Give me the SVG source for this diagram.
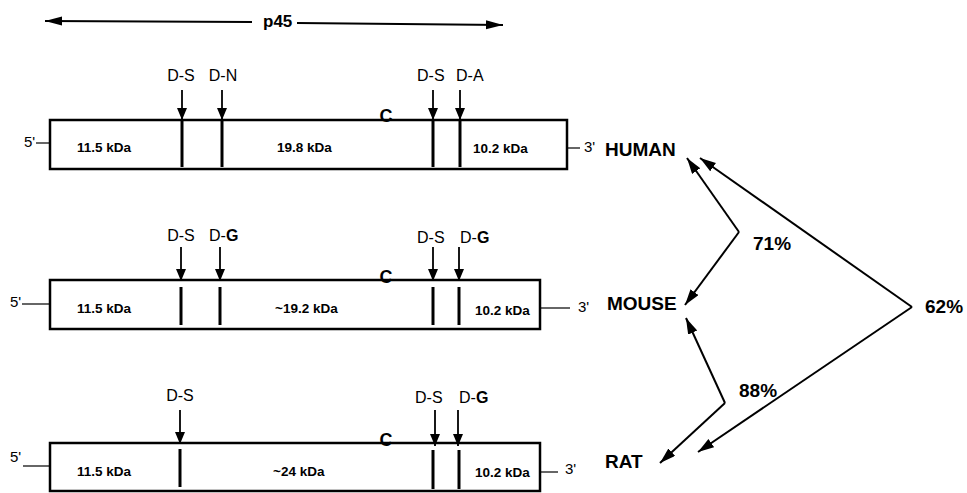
<svg xmlns="http://www.w3.org/2000/svg" width="967" height="493" viewBox="0 0 967 493">
<style>
text{font-family:"Liberation Sans",Arial,sans-serif;fill:#000}
.lbl{font-size:16px;text-anchor:middle}
.lbs{font-size:16px}
.kda{font-size:13.5px;font-weight:bold}
.end{font-size:15px}
.sp{font-size:19px;font-weight:bold}
.c{font-size:18px;font-weight:bold;text-anchor:middle}
.box{fill:#fff;stroke:#000;stroke-width:2.5}
.cut{stroke:#000;stroke-width:3}
.shaft{stroke:#000;stroke-width:1.8;fill:none}
.thin{stroke:#000;stroke-width:1.2}
.con{stroke:#000;stroke-width:2;fill:none;marker-end:url(#ah)}
</style>
<defs>
<marker id="dn" markerUnits="userSpaceOnUse" markerWidth="14" markerHeight="14" refX="12" refY="5" orient="auto"><path d="M0,0 L12,5 L0,10 z"/></marker>
<marker id="ah" markerUnits="userSpaceOnUse" markerWidth="18" markerHeight="12" refX="16" refY="5" orient="auto"><path d="M0,0 L16,5 L0,10 z"/></marker>
<marker id="big" markerUnits="userSpaceOnUse" markerWidth="18" markerHeight="10" refX="17" refY="4.5" orient="auto"><path d="M0,0 L17,4.5 L0,9 z"/></marker>
</defs>

<g id="p45">
<line x1="252" y1="22" x2="45" y2="21" class="shaft" marker-end="url(#big)"/>
<line x1="297" y1="23" x2="503" y2="25" class="shaft" marker-end="url(#big)"/>
<text x="263" y="27" style="font-size:17px;font-weight:bold">p45</text>
</g>

<g id="human">
<line x1="36" y1="143" x2="50" y2="143" class="thin"/>
<text x="24" y="147" class="end">5'</text>
<rect x="50" y="120" width="517" height="49" class="box"/>
<line x1="182" y1="90" x2="182" y2="120" class="shaft" marker-end="url(#dn)"/>
<line x1="222" y1="90" x2="222" y2="120" class="shaft" marker-end="url(#dn)"/>
<line x1="433" y1="90" x2="433" y2="120" class="shaft" marker-end="url(#dn)"/>
<line x1="460" y1="90" x2="460" y2="120" class="shaft" marker-end="url(#dn)"/>
<line x1="182" y1="120" x2="182" y2="167" class="cut"/>
<line x1="222" y1="120" x2="222" y2="167" class="cut"/>
<line x1="433" y1="120" x2="433" y2="167" class="cut"/>
<line x1="460" y1="120" x2="460" y2="167" class="cut"/>
<text x="181" y="81" class="lbl">D-S</text>
<text x="223" y="81" class="lbl">D-N</text>
<text x="417" y="81" class="lbs">D-S</text>
<text x="456" y="81" class="lbs">D-A</text>
<text x="386" y="122" class="c">C</text>
<text x="77" y="152" class="kda">11.5 kDa</text>
<text x="277" y="152" class="kda">19.8 kDa</text>
<text x="473" y="153" class="kda">10.2 kDa</text>
<line x1="567" y1="148" x2="580" y2="148" class="thin"/>
<text x="584" y="152" class="end">3'</text>
<text x="605" y="156" class="sp">HUMAN</text>
</g>

<g id="mouse">
<line x1="22" y1="304" x2="50" y2="304" class="thin"/>
<text x="10" y="307" class="end">5'</text>
<rect x="50" y="280" width="490" height="49" class="box"/>
<line x1="181" y1="247" x2="181" y2="281" class="shaft" marker-end="url(#dn)"/>
<line x1="220" y1="247" x2="220" y2="281" class="shaft" marker-end="url(#dn)"/>
<line x1="433" y1="247" x2="433" y2="281" class="shaft" marker-end="url(#dn)"/>
<line x1="459" y1="247" x2="459" y2="281" class="shaft" marker-end="url(#dn)"/>
<line x1="181" y1="287" x2="181" y2="325" class="cut"/>
<line x1="220" y1="287" x2="220" y2="325" class="cut"/>
<line x1="433" y1="287" x2="433" y2="325" class="cut"/>
<line x1="459" y1="287" x2="459" y2="325" class="cut"/>
<text x="181" y="241" class="lbl">D-S</text>
<text x="209" y="241" class="lbs">D-<tspan font-weight="bold">G</tspan></text>
<text x="417" y="243" class="lbs">D-S</text>
<text x="460" y="243" class="lbs">D-<tspan font-weight="bold">G</tspan></text>
<text x="386" y="283" class="c">C</text>
<text x="77" y="313" class="kda">11.5 kDa</text>
<text x="275" y="313" class="kda">~19.2 kDa</text>
<text x="475" y="315" class="kda">10.2 kDa</text>
<line x1="540" y1="308" x2="570" y2="308" class="thin"/>
<text x="578" y="312" class="end">3'</text>
<text x="607" y="310" class="sp">MOUSE</text>
</g>

<g id="rat">
<line x1="23" y1="466" x2="50" y2="466" class="thin"/>
<text x="10" y="462" class="end">5'</text>
<rect x="50" y="443" width="490" height="48" class="box"/>
<line x1="180" y1="410" x2="180" y2="444" class="shaft" marker-end="url(#dn)"/>
<line x1="435" y1="410" x2="435" y2="446" class="shaft" marker-end="url(#dn)"/>
<line x1="458" y1="410" x2="458" y2="446" class="shaft" marker-end="url(#dn)"/>
<line x1="180" y1="449" x2="180" y2="487" class="cut"/>
<line x1="433" y1="450" x2="433" y2="489" class="cut"/>
<line x1="459" y1="450" x2="459" y2="489" class="cut"/>
<text x="180" y="401" class="lbl">D-S</text>
<text x="415" y="403" class="lbs">D-S</text>
<text x="459" y="403" class="lbs">D-<tspan font-weight="bold">G</tspan></text>
<text x="386" y="446" class="c">C</text>
<text x="77" y="476" class="kda">11.5 kDa</text>
<text x="273" y="476" class="kda">~24 kDa</text>
<text x="475" y="477" class="kda">10.2 kDa</text>
<line x1="540" y1="472" x2="558" y2="472" class="thin"/>
<text x="565" y="474" class="end">3'</text>
<text x="605" y="468" class="sp">RAT</text>
</g>

<g id="connectors">
<line x1="739" y1="232" x2="687" y2="158" class="con"/>
<line x1="739" y1="232" x2="685" y2="305" class="con"/>
<line x1="912" y1="307" x2="700" y2="158" class="con"/>
<line x1="912" y1="307" x2="698" y2="452" class="con"/>
<line x1="725" y1="403" x2="686" y2="318" class="con"/>
<line x1="725" y1="403" x2="660" y2="463" class="con"/>
</g>

<g id="percent">
<text x="753" y="250" class="sp">71%</text>
<text x="925" y="313" class="sp">62%</text>
<text x="739" y="397" class="sp">88%</text>
</g>
</svg>
